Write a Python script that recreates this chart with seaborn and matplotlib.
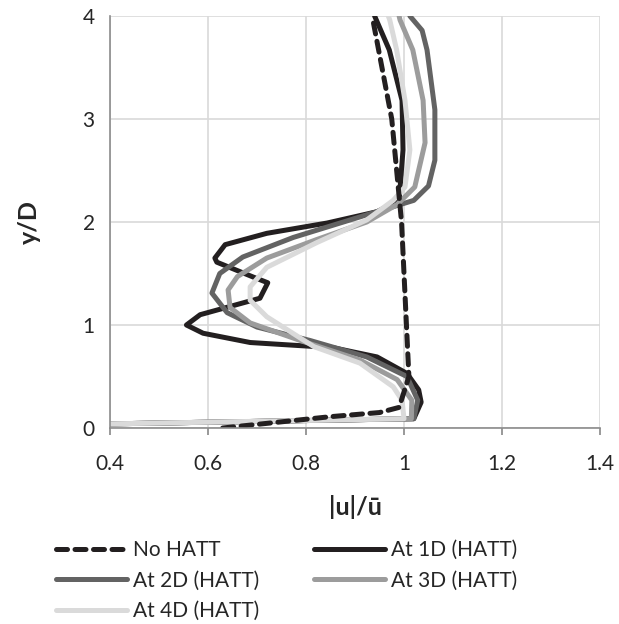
import matplotlib
matplotlib.use("Agg")
import matplotlib.pyplot as plt
import seaborn as sns
import pandas as pd

# ---- data ----
no_x = [0.63, 0.75, 0.85, 0.95, 0.99, 1.01, 1.005, 0.995, 0.975, 0.935]
no_y = [0.0, 0.06, 0.11, 0.15, 0.2, 0.5, 1.0, 2.0, 3.0, 4.0]

d1_x = [0.40, 1.02, 1.035, 1.03, 1.006, 0.945, 0.855, 0.753, 0.686, 0.59, 0.556, 0.584, 0.706,
        0.722, 0.69, 0.618, 0.614, 0.635, 0.72, 0.843, 0.945, 0.99, 0.998, 0.996, 0.97, 0.94]
d1_y = [0.04, 0.09, 0.25, 0.37, 0.53, 0.69, 0.78, 0.81, 0.83, 0.92, 1.0, 1.1, 1.26,
        1.41, 1.47, 1.61, 1.65, 1.78, 1.89, 1.99, 2.1, 2.21, 2.7, 3.18, 3.67, 4.0]

d2_x = [0.40, 1.02, 1.028, 1.006, 0.924, 0.808, 0.70, 0.639, 0.608, 0.624, 0.671, 0.774, 0.89,
        1.02, 1.05, 1.063, 1.063, 1.047, 1.037, 1.012]
d2_y = [0.04, 0.09, 0.27, 0.5, 0.69, 0.85, 0.98, 1.12, 1.31, 1.5, 1.66, 1.85, 2.02,
        2.21, 2.35, 2.6, 3.09, 3.67, 3.86, 4.0]

d3_x = [0.40, 1.015, 1.016, 0.986, 0.91, 0.788, 0.686, 0.645, 0.641, 0.66, 0.72, 0.822, 0.924,
        0.986, 1.022, 1.043, 1.039, 1.018, 0.992, 0.99]
d3_y = [0.04, 0.09, 0.27, 0.47, 0.66, 0.85, 1.02, 1.17, 1.34, 1.47, 1.65, 1.83, 2.0,
        2.17, 2.34, 2.77, 3.18, 3.67, 3.96, 4.0]

d4_x = [0.40, 1.0, 0.996, 0.978, 0.91, 0.816, 0.72, 0.686, 0.686, 0.72, 0.822, 0.924, 0.978,
        1.002, 1.012, 1.002, 0.985, 0.971, 0.968]
d4_y = [0.04, 0.09, 0.27, 0.4, 0.63, 0.79, 1.08, 1.24, 1.37, 1.56, 1.8, 2.02, 2.21,
        2.34, 2.7, 3.18, 3.67, 3.96, 4.0]

labels = ["No HATT", "At 1D (HATT)", "At 2D (HATT)", "At 3D (HATT)", "At 4D (HATT)"]
x_ticks = [0.4, 0.6, 0.8, 1.0, 1.2, 1.4]
x_tick_labels = ["0.4", "0.6", "0.8", "1", "1.2", "1.4"]
y_ticks = [0, 1, 2, 3, 4]

sns.set_theme(style="white")
plt.rcParams['font.family'] = ['Lato', 'DejaVu Sans']

fig = plt.figure(figsize=(6.19, 6.24), dpi=100)
ax = fig.add_axes([110/619, 1-428/624, 490/619, 412/624])

series = [
    (d1_x, d1_y, labels[1], "#231f20", "-"),
    (d2_x, d2_y, labels[2], "#636363", "-"),
    (d3_x, d3_y, labels[3], "#9c9c9c", "-"),
    (d4_x, d4_y, labels[4], "#dadada", "-"),
    (no_x, no_y, labels[0], "#231f20", "--"),
]
handles = {}
for xs, ys, lab, col, ls in series:
    df = pd.DataFrame({"x": xs, "y": ys})
    sns.lineplot(data=df, x="x", y="y", sort=False, estimator=None, ax=ax,
                 color=col, linewidth=3.6, linestyle=ls, label=lab, legend=False,
                 clip_on=True, solid_joinstyle="round")
    line = ax.lines[-1]
    handles[lab] = line
    if ls == "--":
        line.set_dashes([2.2, 1.5])
        line.set_dash_capstyle("round")

ax.set_xlim(0.4, 1.4)
ax.set_ylim(0, 4)
ax.set_xticks(x_ticks)
ax.set_xticklabels(x_tick_labels)
ax.set_yticks(y_ticks)
ax.grid(True, color="#d9d9d9", linewidth=1.2)
ax.set_axisbelow(True)
for s in ["top", "right"]:
    ax.spines[s].set_visible(False)
for s in ["left", "bottom"]:
    ax.spines[s].set_color("#8c8c8c")
    ax.spines[s].set_linewidth(1.2)
ax.tick_params(axis="x", bottom=True, length=5, color="#8c8c8c", labelsize=15, pad=14)
ax.tick_params(axis="y", left=False, labelsize=15, pad=5)
for t in ax.get_xticklabels() + ax.get_yticklabels():
    t.set_color("#262626")
ax.set_xlabel("|u|/ū", fontsize=18, fontweight="bold", labelpad=15, color="#262626")
ax.set_ylabel("y/D", fontsize=18, fontweight="bold", labelpad=30, color="#262626")

order = [labels[0], labels[2], labels[4], labels[1], labels[3]]
leg = fig.legend([handles[l] for l in order], order, ncol=2, loc="upper left",
                 bbox_to_anchor=(48/619, 1-532/624), frameon=False, fontsize=15,
                 handlelength=3.4, columnspacing=2.6, labelspacing=0.5,
                 handletextpad=0.3, borderaxespad=0)
for t in leg.get_texts():
    t.set_color("#262626")

fig.savefig("out.png", dpi=100)
